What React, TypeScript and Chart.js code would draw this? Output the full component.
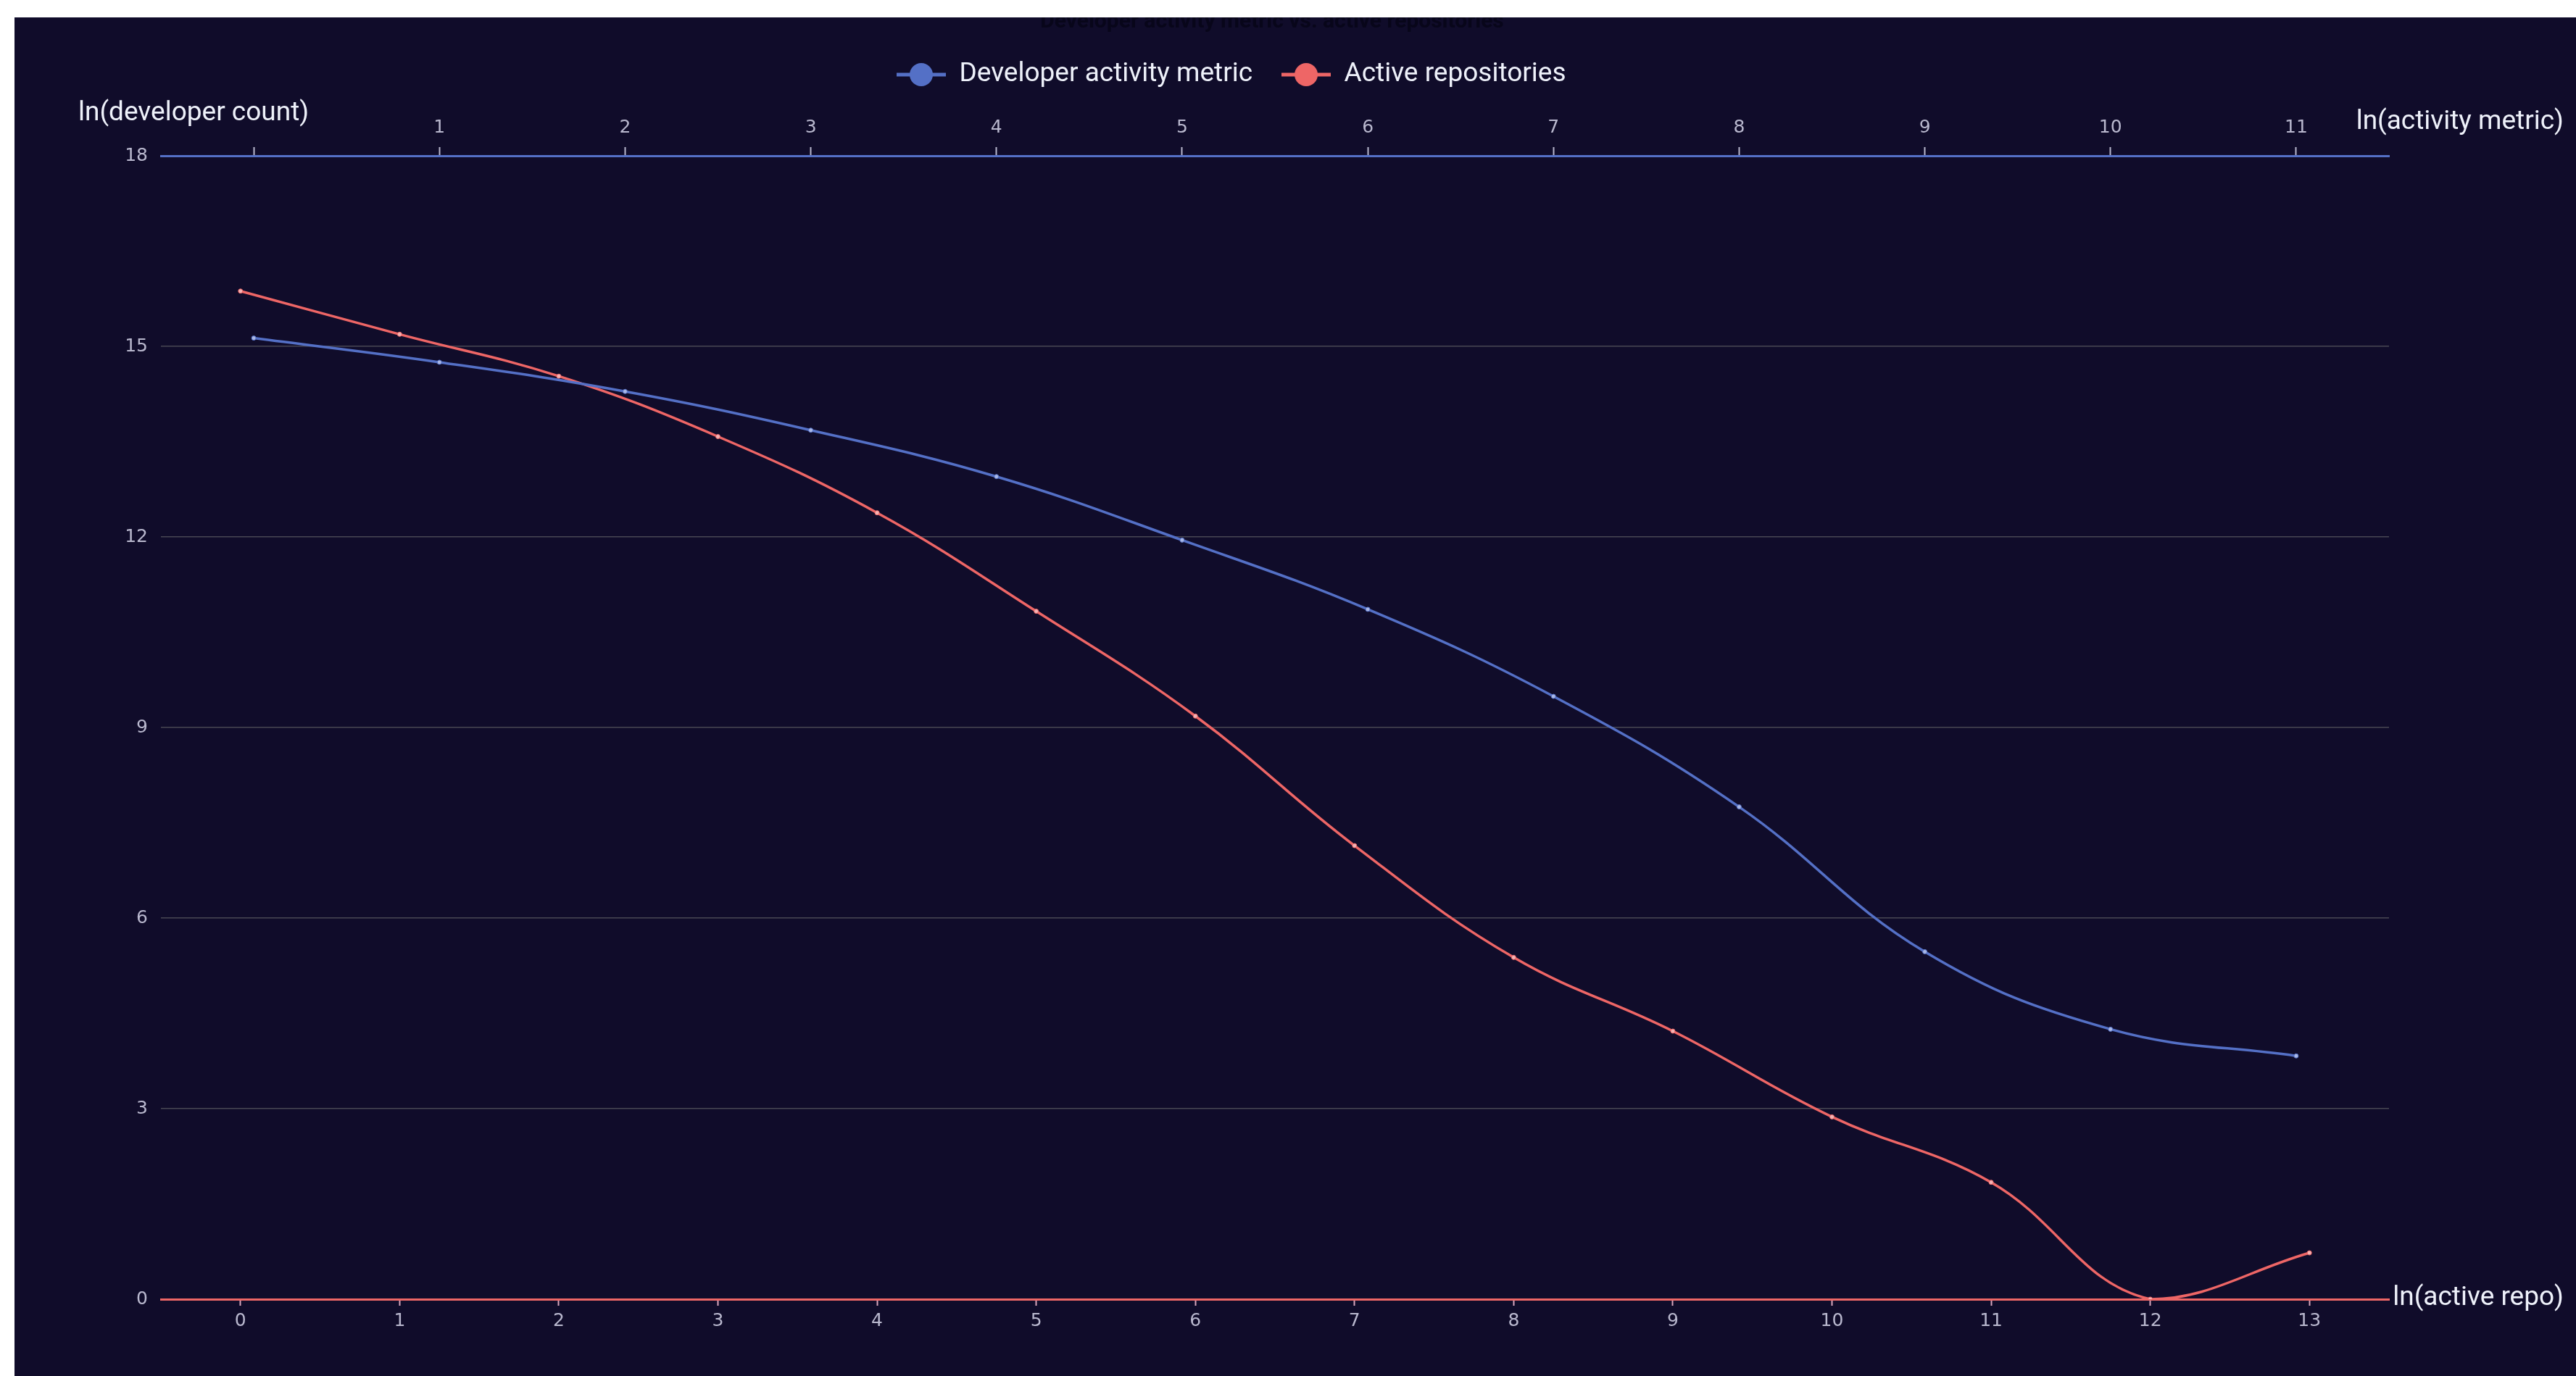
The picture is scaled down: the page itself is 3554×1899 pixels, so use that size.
import React, { useEffect, useRef } from 'react';
import { Chart, registerables } from 'chart.js';

Chart.register(...registerables);

// ---- data ----
const chartTitle = 'Developer activity metric vs. active repositories';
const seriesNames = ['Developer activity metric', 'Active repositories'];
const activityLabels = ['0', '1', '2', '3', '4', '5', '6', '7', '8', '9', '10', '11'];
const repoLabels = ['0', '1', '2', '3', '4', '5', '6', '7', '8', '9', '10', '11', '12', '13'];
const developerActivity = [15.13, 14.75, 14.29, 13.68, 12.95, 11.95, 10.86, 9.49, 7.75, 5.47, 4.25, 3.83];
const activeRepositories = [15.87, 15.19, 14.53, 13.58, 12.38, 10.83, 9.18, 7.14, 5.38, 4.22, 2.87, 1.84, 0.0, 0.73];
const yMin = 0;
const yMax = 18;
const yStep = 3;
const yAxisTitle = 'ln(developer count)';
const topAxisTitle = 'ln(activity metric)';
const bottomAxisTitle = 'ln(active repo)';

// ---- styles ----
const BG = '#100C2A';
const BLUE = '#5470c6';
const RED = '#ee6666';
const TICK_COLOR = '#B9B8CE';
const TEXT_COLOR = '#EEF1FA';
const W = 3534;
const H = 1875;

function makeMarker(color: string): HTMLCanvasElement {
  const c = document.createElement('canvas');
  c.width = 68;
  c.height = 34;
  const g = c.getContext('2d')!;
  g.strokeStyle = color;
  g.lineWidth = 5;
  g.beginPath();
  g.moveTo(0, 17);
  g.lineTo(68, 17);
  g.stroke();
  g.fillStyle = color;
  g.beginPath();
  g.arc(34, 17, 16, 0, Math.PI * 2);
  g.fill();
  return c;
}

const layoutPlugin = {
  id: 'customLayout',
  afterLayout(chart: any) {
    const lg = chart.legend;
    if (lg && lg.lineWidths) {
      const pad = lg.options.labels.padding;
      const target = 1217;
      lg.right = 2 * target - lg.left - pad + lg.lineWidths[0];
    }
    const tb = chart.titleBlock;
    if (tb) {
      tb.right = 2 * 1735 - tb.left;
    }
  },
  afterDraw(chart: any) {
    const ctx = chart.ctx;
    const a = chart.chartArea;
    ctx.save();
    ctx.font = '37px Roboto';
    ctx.fillStyle = TEXT_COLOR;
    ctx.textBaseline = 'alphabetic';
    ctx.textAlign = 'left';
    ctx.fillText(yAxisTitle, a.left - 114, a.top - 49);
    ctx.textAlign = 'right';
    ctx.fillText(topAxisTitle, chart.width - 17, a.top - 37);
    ctx.fillText(bottomAxisTitle, chart.width - 17, a.bottom + 8);
    ctx.restore();
  },
};

export default function App() {
  const ref = useRef<HTMLCanvasElement>(null);

  useEffect(() => {
    const markers = [makeMarker(BLUE), makeMarker(RED)];
    const tickFont = { family: 'DejaVu Sans', size: 25 };
    const chart = new Chart(ref.current!, {
      type: 'line',
      data: {
        labels: repoLabels,
        datasets: [
          {
            label: seriesNames[0],
            data: developerActivity,
            xAxisID: 'x2',
            yAxisID: 'y',
            borderColor: BLUE,
            backgroundColor: BLUE,
            borderWidth: 3.5,
            tension: 0.4,
            pointRadius: 3,
            pointBackgroundColor: '#aab8e6',
            pointBorderColor: BLUE,
            pointBorderWidth: 1,
            fill: false,
          },
          {
            label: seriesNames[1],
            data: activeRepositories,
            xAxisID: 'x',
            yAxisID: 'y',
            borderColor: RED,
            backgroundColor: RED,
            borderWidth: 3.5,
            tension: 0.4,
            pointRadius: 3,
            pointBackgroundColor: '#f4b4b4',
            pointBorderColor: RED,
            pointBorderWidth: 1,
            fill: false,
          },
        ],
      },
      options: {
        responsive: false,
        maintainAspectRatio: false,
        animation: false,
        devicePixelRatio: 1,
        layout: { padding: { left: 0, right: 258, top: 0, bottom: 0 } },
        plugins: {
          tooltip: { enabled: false },
          title: {
            display: true,
            text: chartTitle,
            color: '#08061a',
            font: { family: 'Roboto', size: 30, weight: 'bold' },
            padding: { top: -12, bottom: -3.5 },
          },
          legend: {
            display: true,
            position: 'top',
            align: 'center',
            labels: {
              usePointStyle: true,
              pointStyleWidth: 68,
              padding: 40,
              color: TEXT_COLOR,
              font: { family: 'Roboto', size: 37 },
              generateLabels: (c: any) => {
                const items = (Chart as any).defaults.plugins.legend.labels.generateLabels(c);
                return items.map((it: any) => ({
                  ...it,
                  pointStyle: markers[it.datasetIndex],
                  fontColor: TEXT_COLOR,
                }));
              },
            },
          },
        },
        scales: {
          x: {
            type: 'category',
            labels: repoLabels,
            position: 'bottom',
            offset: true,
            grid: {
              display: true,
              drawOnChartArea: false,
              drawTicks: true,
              tickLength: 9,
              tickColor: '#d9a6bd',
              tickWidth: 2,
            },
            border: { display: true, color: RED, width: 3 },
            ticks: { color: TICK_COLOR, font: tickFont, padding: 6, maxRotation: 0, autoSkip: false },
            afterFit: (s: any) => {
              s.height = 106;
            },
          },
          x2: {
            type: 'category',
            labels: activityLabels,
            position: 'top',
            offset: true,
            grid: {
              display: true,
              drawOnChartArea: false,
              drawTicks: true,
              tickLength: 12,
              tickColor: TICK_COLOR,
              tickWidth: 2,
            },
            border: { display: true, color: BLUE, width: 3 },
            ticks: {
              color: TICK_COLOR,
              font: tickFont,
              padding: 12,
              maxRotation: 0,
              autoSkip: false,
              callback: (_v: any, i: number) => (i === 0 ? '' : activityLabels[i]),
            },
            afterFit: (s: any) => {
              s.height = 83.5;
            },
          },
          y: {
            type: 'linear',
            min: yMin,
            max: yMax,
            ticks: { stepSize: yStep, color: TICK_COLOR, font: tickFont, padding: 18 },
            grid: { color: '#484753', lineWidth: 1.5, drawTicks: false },
            border: { display: false },
            afterFit: (s: any) => {
              s.width = 202;
            },
          },
        },
      } as any,
      plugins: [layoutPlugin],
    });
    return () => chart.destroy();
  }, []);

  return (
    <div
      style={{
        position: 'fixed',
        left: 20,
        top: 24,
        width: W,
        height: H,
        overflow: 'hidden',
        background: BG,
      }}
    >
      <canvas ref={ref} width={W} height={H} style={{ display: 'block', width: W, height: H }} />
    </div>
  );
}
